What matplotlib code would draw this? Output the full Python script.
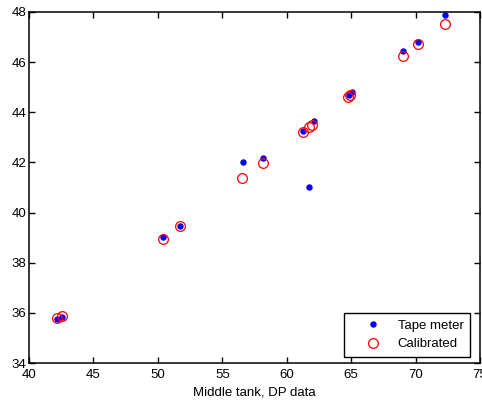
import matplotlib
matplotlib.use("Agg")
import matplotlib.pyplot as plt

tape_x = [42.2, 42.55, 50.4, 51.7, 56.6, 58.15, 61.75, 61.3, 62.1, 64.8, 65.05, 69.0, 70.2, 72.3]
tape_y = [35.75, 35.85, 39.04, 39.45, 42.0, 42.16, 41.02, 43.27, 43.64, 44.69, 44.82, 46.44, 46.82, 47.87]

cal_x = [42.2, 42.55, 50.4, 51.7, 56.55, 58.15, 61.3, 61.75, 62.0, 64.75, 64.95, 69.0, 70.2, 72.3]
cal_y = [35.78, 35.88, 38.95, 39.45, 41.37, 41.99, 43.23, 43.42, 43.49, 44.6, 44.68, 46.23, 46.74, 47.52]

xticks = [40, 45, 50, 55, 60, 65, 70, 75]
yticks = [34, 36, 38, 40, 42, 44, 46, 48]

plt.rcParams['font.family'] = ['Liberation Sans', 'DejaVu Sans']
plt.rcParams['font.size'] = 9.5

fig = plt.figure(figsize=(4.82, 4.03), dpi=100)
ax = fig.add_axes([29/482, 1 - 363/403, (480 - 29)/482, (363 - 12)/403])

ax.plot(tape_x, tape_y, linestyle='none', marker='o', markersize=3.6,
        color='blue', markeredgecolor='blue', label='Tape meter')
ax.plot(cal_x, cal_y, linestyle='none', marker='o', markersize=7,
        markerfacecolor='none', markeredgecolor='red', markeredgewidth=0.9,
        label='Calibrated')

ax.set_xlim(40, 75)
ax.set_ylim(34, 48)
ax.set_xticks(xticks)
ax.set_yticks(yticks)
ax.tick_params(direction='in', length=4, width=1, top=True, right=True)
ax.tick_params(axis='x', pad=4)
ax.tick_params(axis='y', pad=2)
for s in ax.spines.values():
    s.set_linewidth(1.1)

ax.set_xlabel('Middle tank, DP data', labelpad=4)

leg = ax.legend(loc='lower right', bbox_to_anchor=(0.978, 0.017),
                fancybox=False, edgecolor='black', framealpha=1,
                borderaxespad=0, handlelength=3.5, handletextpad=0.1,
                borderpad=0.5, labelspacing=0.5)
leg.get_frame().set_linewidth(1.0)

fig.savefig('out.png', dpi=100)
